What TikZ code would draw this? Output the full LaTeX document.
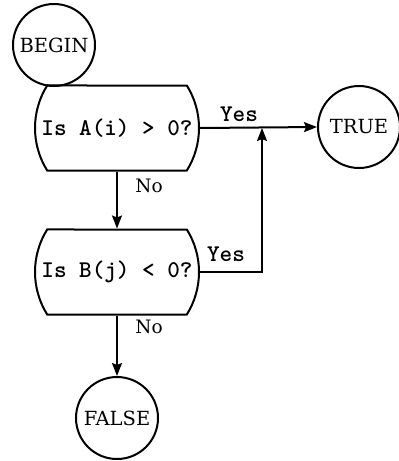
\documentclass[tikz,border=0pt]{standalone}
\usepackage{fontspec}
\newfontfamily\chartfont{DejaVu Serif}
\usetikzlibrary{arrows.meta,shapes.misc}
\tikzset{
  term/.style={circle,draw,line width=2pt,minimum size=82pt,inner sep=0pt,font=\chartfont\fontsize{19.5}{19.5}\selectfont},
  test/.style={rounded rectangle,rounded rectangle arc length=64,draw,line width=2pt,
    minimum width=164pt,minimum height=85pt,inner sep=0pt,font=\ttfamily\bfseries\fontsize{24}{24}\selectfont},
  flow/.style={line width=2pt,-{Stealth[length=13pt,width=10pt,inset=2pt]}},
  lbl/.style={font=\chartfont\fontsize{18.5}{18.5}\selectfont},
  ans/.style={font=\ttfamily\bfseries\fontsize{24}{24}\selectfont},
}
\begin{document}
\begin{tikzpicture}[x=1pt,y=-1pt]
\useasboundingbox (0,0) rectangle (399,461);
\node[term] (begin) at (54,45) {BEGIN};
\node[test] (testA) at (117,128) {Is A(i) > 0?};
\node[test] (testB) at (117,272) {Is B(j) < 0?};
\node[term] (true) at (359,127) {TRUE};
\node[term] (false) at (117,418) {FALSE};
\coordinate (join) at (262,128);
% yes branches
\draw[flow] (testA.east) -- (true.west);
\draw[flow] (testB.east) -| (join);
\node[ans] at (239,114) {Yes};\node[ans] at (226,254) {Yes};
% no branches
\draw[flow] (testA.south) -- (testB.north);
\draw[flow] (testB.south) -- (false.north);
\node[lbl] at (149,186) {No};\node[lbl] at (149,327) {No};
\end{tikzpicture}
\end{document}
